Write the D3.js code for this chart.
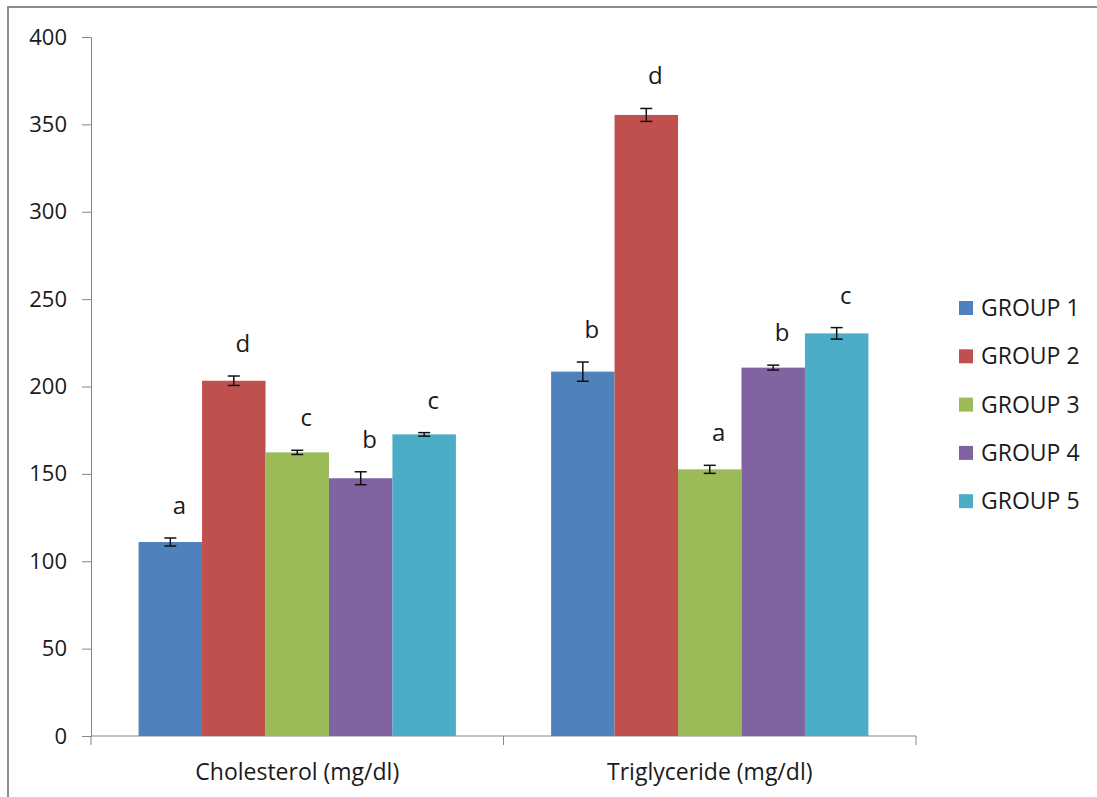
<!DOCTYPE html>
<html>
<head>
<meta charset="utf-8">
<script src="https://cdn.jsdelivr.net/npm/d3@7"></script>
<style>
  body { margin: 0; background: #fff; }
  text { font-family: "Open Sans", "Noto Sans", sans-serif; fill: #1a1a1a; }
</style>
</head>
<body>
<svg id="chart"></svg>
<script>
// chart data
const categories = ["Cholesterol (mg/dl)", "Triglyceride (mg/dl)"];
const groups = ["GROUP 1", "GROUP 2", "GROUP 3", "GROUP 4", "GROUP 5"];
const colors = ["#4F81BD", "#C0504D", "#9BBB59", "#8064A2", "#4BACC6"];
const means = [
    [111, 203.3, 162.3, 147.5, 172.6],
    [208.5, 355.4, 152.6, 210.8, 230.4]
];
const errors = [
    [2.3, 2.7, 1.2, 3.7, 1],
    [5.5, 3.7, 2.3, 1.4, 3.3]
];
const letters = [
    ["a", "d", "c", "b", "c"],
    ["b", "d", "a", "b", "c"]
];
const yTicks = [0, 50, 100, 150, 200, 250, 300, 350, 400];

const width = 1097, height = 797;
const svg = d3.select('#chart')
    .attr('width', width)
    .attr('height', height);

// outer frame (only left and top edges are visible in the shot)
svg.append('path')
    .attr('d', 'M8,797 V7 H1097')
    .attr('fill', 'none')
    .attr('stroke', '#8c8c8c')
    .attr('stroke-width', 2);

const plot = { left: 91, right: 916, top: 37, bottom: 736 };

const y = d3.scaleLinear()
    .domain([0, 400])
    .range([plot.bottom, plot.top]);

const x0 = d3.scaleBand()
    .domain(categories)
    .range([plot.left, plot.right])
    .padding(0);

// Excel-style 150% gap width
const x1 = d3.scaleBand()
    .domain(groups)
    .range([0, x0.bandwidth()])
    .paddingInner(0)
    .paddingOuter(0.75);

// y axis
const yAxis = d3.axisLeft(y).tickValues(yTicks).tickSize(9).tickPadding(15);
const gy = svg.append('g')
    .attr('transform', `translate(${plot.left},0)`)
    .call(yAxis);
gy.select('.domain').attr('stroke', '#868686');
gy.selectAll('.tick line').attr('stroke', '#868686');
gy.selectAll('.tick text')
    .style('font-size', '22px')
    .attr('fill', '#1a1a1a');

// x axis
const gx = svg.append('g')
    .attr('transform', `translate(0,${plot.bottom})`);
gx.append('line')
    .attr('x1', plot.left).attr('x2', plot.right)
    .attr('stroke', '#868686');
const xTickPos = [plot.left].concat(categories.map(c => x0(c) + x0.bandwidth()));
gx.selectAll('.xt')
    .data(xTickPos)
    .join('line')
    .attr('x1', d => d).attr('x2', d => d)
    .attr('y1', 0).attr('y2', 9)
    .attr('stroke', '#868686');
gx.selectAll('.xl')
    .data(categories)
    .join('text')
    .attr('x', d => x0(d) + x0.bandwidth() / 2)
    .attr('y', 44)
    .attr('text-anchor', 'middle')
    .style('font-size', '23px')
    .text(d => d);

// bars
const cat = svg.selectAll('.cat')
    .data(categories)
    .join('g')
    .attr('transform', d => `translate(${x0(d)},0)`);

cat.each(function(c, ci) {
    const g = d3.select(this);
    const rows = groups.map((grp, gi) => ({
        grp, gi, v: means[ci][gi], e: errors[ci][gi], l: letters[ci][gi]
    }));

    g.selectAll('rect')
        .data(rows)
        .join('rect')
        .attr('x', d => x1(d.grp))
        .attr('y', d => y(d.v))
        .attr('width', x1.bandwidth())
        .attr('height', d => y(0) - y(d.v))
        .attr('fill', d => colors[d.gi]);

    // error bars
    const eb = g.selectAll('.eb')
        .data(rows)
        .join('g')
        .attr('transform', d => `translate(${x1(d.grp) + x1.bandwidth() / 2},0)`)
        .attr('stroke', '#111')
        .attr('stroke-width', 1.5);
    eb.append('line')
        .attr('y1', d => y(d.v + d.e)).attr('y2', d => y(d.v - d.e));
    eb.append('line')
        .attr('x1', -6).attr('x2', 6)
        .attr('y1', d => y(d.v + d.e)).attr('y2', d => y(d.v + d.e));
    eb.append('line')
        .attr('x1', -6).attr('x2', 6)
        .attr('y1', d => y(d.v - d.e)).attr('y2', d => y(d.v - d.e));

    // significance letters
    g.selectAll('.lt')
        .data(rows)
        .join('text')
        .attr('x', d => x1(d.grp) + x1.bandwidth() / 2 + 9)
        .attr('y', d => y(d.v + d.e) - 24)
        .attr('text-anchor', 'middle')
        .style('font-size', '24px')
        .attr('fill', '#111')
        .text(d => d.l);
});

// legend
const legend = svg.append('g')
    .attr('transform', 'translate(959,308)');
const li = legend.selectAll('g')
    .data(groups)
    .join('g')
    .attr('transform', (d, i) => `translate(0,${i * 48.3})`);
li.append('rect')
    .attr('x', 0).attr('y', -7)
    .attr('width', 14).attr('height', 14)
    .attr('fill', (d, i) => colors[i]);
li.append('text')
    .attr('x', 22)
    .attr('y', 8)
    .style('font-size', '23px')
    .text(d => d);
</script>
</body>
</html>
